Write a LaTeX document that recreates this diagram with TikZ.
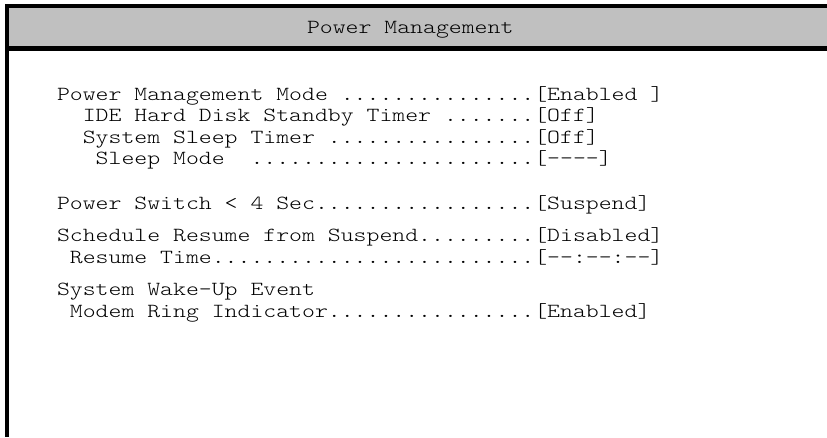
\documentclass[tikz,border=0pt]{standalone}
\usepackage{graphicx}
\usepackage{fontspec}
\setmonofont{lmmonolt10-regular.otf}
\definecolor{biosgray}{HTML}{C0C0C0}
\newcommand\hy{\hbox{-}}
\newcommand\bioswide[1]{\scalebox{1.2286}[1]{#1}}
\begin{document}
\begin{tikzpicture}[x=1pt,y=-1pt,
  biosline/.style={anchor=base west,inner sep=0pt,outer sep=0pt,
    font=\ttfamily\fontsize{20}{20}\selectfont\frenchspacing},
]
\useasboundingbox (0,0) rectangle (827,437);
% frame
\fill[biosgray] (9,8) rectangle (827,46);
\fill[black] (5,4) rectangle (827,8);
\fill[black] (5,4) rectangle (9,437);
\fill[black] (9,46) rectangle (827,51);
% title
\node[biosline] (title) at (307,33) {\bioswide{Power~Management}};
% items (cell width 12.9)
\node[biosline] (pmm)  at (57,100)     {\bioswide{Power~Management~Mode~...............[Enabled~]}};
\node[biosline] (ide)  at (82.8,121.5) {\bioswide{IDE~Hard~Disk~Standby~Timer~.......[Off]}};
\node[biosline] (sst)  at (82.8,143)   {\bioswide{System~Sleep~Timer~................[Off]}};
\node[biosline] (slm)  at (95.7,164.5) {\bioswide{Sleep~Mode~~......................[\hy\hy\hy\hy]}};
\node[biosline] (psw)  at (57,209)     {\bioswide{Power~Switch~<~4~Sec.................[Suspend]}};
\node[biosline] (srs)  at (57,241)     {\bioswide{Schedule~Resume~from~Suspend.........[Disabled]}};
\node[biosline] (rtm)  at (69.9,263)   {\bioswide{Resume~Time.........................[\hy\hy:\hy\hy:\hy\hy]}};
\node[biosline] (swe)  at (57,295)     {\bioswide{System~Wake\hy Up~Event}};
\node[biosline] (mri)  at (69.9,317)   {\bioswide{Modem~Ring~Indicator................[Enabled]}};
\end{tikzpicture}
\end{document}
